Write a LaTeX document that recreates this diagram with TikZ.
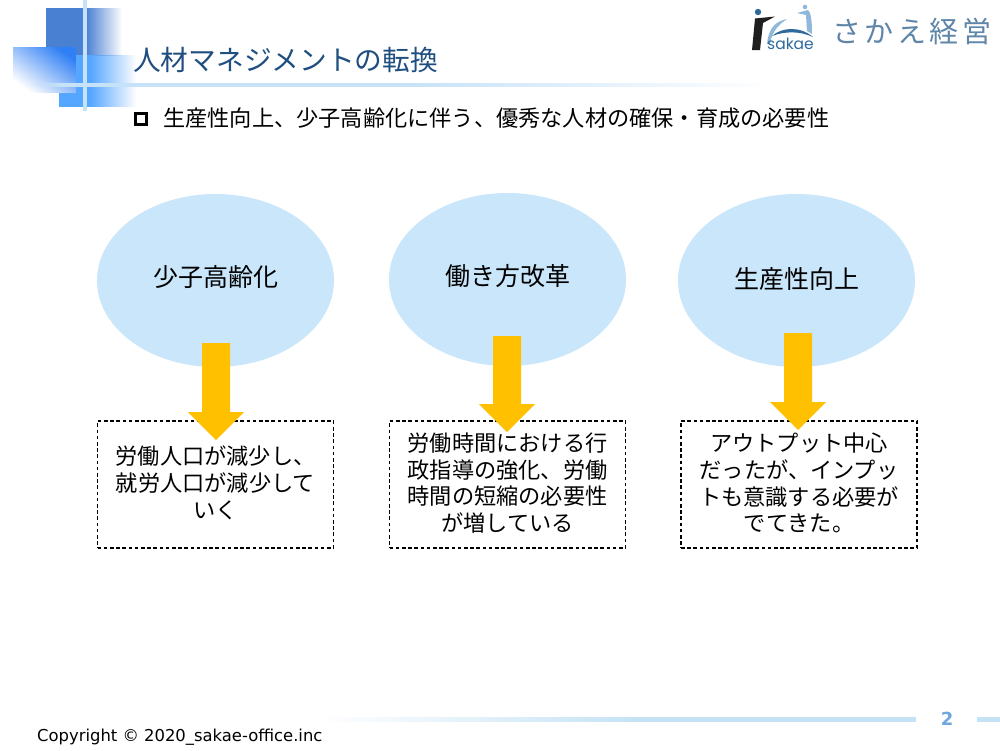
\documentclass[tikz,border=0pt]{standalone}
\usepackage{fontspec}
\usetikzlibrary{shapes.geometric,fadings,calc}
\setmainfont{Noto Sans CJK JP}
\newfontfamily\latinfont{DejaVu Sans}
\newfontfamily\logofont[LetterSpace=12]{Noto Sans CJK JP}
\newfontfamily\sakaefont{Poppins}
\newcommand\upnote[1]{\parbox{205pt}{\centering #1\par\vspace{3pt}}}
\definecolor{ellipsec}{HTML}{C9E6FA}
\definecolor{arrowc}{HTML}{FFC000}
\definecolor{titlec}{HTML}{1F4E80}
\definecolor{decoA}{HTML}{4A80D2}
\definecolor{decoB}{HTML}{55A6FF}
\definecolor{decoC}{HTML}{2F7FF5}
\definecolor{barc}{HTML}{C6E2F8}
\definecolor{footc}{HTML}{C5E3F5}
\definecolor{numc}{HTML}{6FA8DC}
\definecolor{logoc}{HTML}{5F86A8}
\definecolor{logod}{HTML}{2F6A9E}
\definecolor{logol}{HTML}{8FB8DA}
\tikzfading[name=fadeR, left color=transparent!0, right color=transparent!100]
\tikzfading[name=fadeL, left color=transparent!100, right color=transparent!0]
\tikzfading[name=fadeDiag, top color=transparent!0, bottom color=transparent!100, shading angle=-45]
\tikzset{
  x=1pt, y=-1pt,
  topic/.style={ellipse, fill=ellipsec, minimum width=237pt, minimum height=173pt, inner sep=0pt, font=\fontsize{25}{30}\selectfont},
  notebox/.style={draw=black, dash pattern=on 3.6pt off 2.6pt, line width=1.3pt, minimum width=236pt, minimum height=127pt, inner sep=0pt, font=\fontsize{22.2}{26.7}\selectfont},
  blockarrow/.style={fill=arrowc, draw=none, to path={
    -- ($(\tikztostart)+(-14,0)$) -- ($(\tikztotarget)+(-14,-28)$) -- ($(\tikztotarget)+(-28,-28)$)
    -- (\tikztotarget) -- ($(\tikztotarget)+(28,-28)$) -- ($(\tikztotarget)+(14,-28)$)
    -- ($(\tikztostart)+(14,0)$) -- cycle}},
}
\begin{document}
\begin{tikzpicture}
\useasboundingbox (0,0) rectangle (1000,750);
\fill[white] (0,0) rectangle (1000,750);
% corner decoration
\fill[decoA] (46,8) rectangle (86,56);
\fill[decoA, path fading=fadeR] (86,8) rectangle (122,56);
\fill[decoB] (59,55) rectangle (90,107);
\fill[decoB, path fading=fadeR] (90,55) rectangle (136,107);
\fill[white] (13,47) rectangle (76,93);
\fill[decoC, path fading=fadeDiag] (13,47) rectangle (76,93);
\fill[barc] (83,0) rectangle (87,111);
\fill[barc, path fading=fadeL] (30,83) rectangle (60,87);
\fill[barc] (60,83) rectangle (400,87);
\fill[barc, path fading=fadeR] (400,83) rectangle (770,87);
% logo
\fill[logod] (758,12) circle (3.2);
\fill[black!88] (755,18.5) -- (775,16.5) -- (763,23) -- (760,50) -- (752,50) -- cycle;
\fill[logol] (767,44) .. controls (769,25) and (778,21) .. (787,19) .. controls (780,24) and (772,30) .. (770,44) -- cycle;
\fill[logod] (772,36) .. controls (782,27) and (800,26) .. (813,37) .. controls (800,31) and (785,31) .. (772,36) -- cycle;
\fill[logol] (805,7) circle (2.3);
\fill[logol] (797,13) -- (808,10) .. controls (811,12) and (812,22) .. (812,34) -- (807,31) -- (806,15) -- cycle;
\node[text=logod, font=\sakaefont\fontsize{15.5}{18}\selectfont, inner sep=0pt] (sakae) at (790.5,44) {sakae};
\node[text=logoc, font=\logofont\fontsize{29}{30}\selectfont, inner sep=0pt, anchor=west] (brand) at (832,31) {さかえ経営};
% title
\node[text=titlec, font=\fontsize{27.7}{32}\selectfont, anchor=west, inner sep=0pt] (title) at (133,60) {人材マネジメントの転換};
\node[draw=black, line width=3.6pt, minimum size=11pt, inner sep=0pt] (bullet) at (141,119) {};
\node[font=\fontsize{22.2}{26}\selectfont, anchor=west, inner sep=0pt] (lead) at (163,118) {生産性向上、少子高齢化に伴う、優秀な人材の確保・育成の必要性};
% topics
\node[topic] (e1) at (215.5,280.5) {\raisebox{10pt}{少子高齢化}};
\node[topic] (e2) at (507.5,279.5) {\raisebox{10pt}{働き方改革}};
\node[topic] (e3) at (796.5,280.5) {\raisebox{6pt}{生産性向上}};
% note boxes
\node[notebox] (b1) at (215.5,484.5) {\upnote{労働人口が減少し、\\就労人口が減少して\\いく}};
\node[notebox] (b2) at (507.5,484.5) {\upnote{労働時間における行\\政指導の強化、労働\\時間の短縮の必要性\\が増している}};
\node[notebox] (b3) at (799,484.5) {\upnote{アウトプット中心\\だったが、インプッ\\トも意識する必要が\\でてきた。}};
% arrows
\coordinate (a1s) at (216,343); \coordinate (a1e) at (216,440);
\coordinate (a2s) at (507,336); \coordinate (a2e) at (507,432);
\coordinate (a3s) at (798,333); \coordinate (a3e) at (798,430);
\path[blockarrow] (a1s) to (a1e);
\path[blockarrow] (a2s) to (a2e);
\path[blockarrow] (a3s) to (a3e);
% footer
\fill[footc, path fading=fadeL] (320,717) rectangle (640,722);
\fill[footc] (640,717) rectangle (916,722);
\fill[footc] (977,717) rectangle (1000,722);
\node[text=numc, font=\latinfont\bfseries\fontsize{18}{20}\selectfont, inner sep=0pt] (page) at (947,718.5) {2};
\node[font=\latinfont\fontsize{16.4}{18}\selectfont, anchor=west, inner sep=0pt] (copy) at (37,737) {Copyright © 2020\_sakae-office.inc};
\end{tikzpicture}
\end{document}
